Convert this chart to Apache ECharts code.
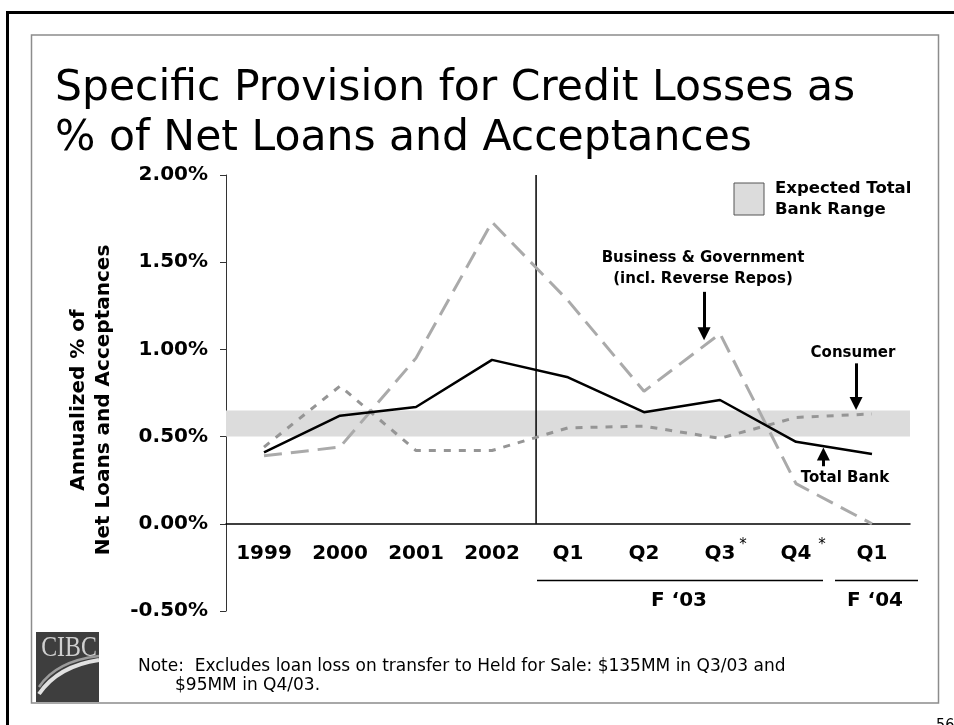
<!DOCTYPE html>
<html>
<head>
<meta charset="utf-8">
<script src="https://cdn.jsdelivr.net/npm/echarts@6/dist/echarts.min.js"></script>
<style>
  html, body { margin: 0; padding: 0; background: #ffffff; }
  #chart { width: 954px; height: 725px; }
</style>
</head>
<body>
<div id="chart"></div>
<script>
// Categories: fiscal years, then quarters of F'03 and Q1 of F'04
const categories = ['1999', '2000', '2001', '2002', 'Q1', 'Q2', 'Q3', 'Q4', 'Q1'];

// Annualized specific provision, % of net loans and acceptances
const totalBank   = [0.41, 0.62, 0.67, 0.94, 0.84, 0.64, 0.71, 0.47, 0.40];
const businessGov = [0.39, 0.44, 0.95, 1.73, 1.28, 0.76, 1.09, 0.23, 0.00];
const consumer    = [0.44, 0.79, 0.42, 0.42, 0.55, 0.56, 0.49, 0.61, 0.63];

// Expected total bank range (low, high)
const expectedRange = [0.50, 0.65];

// Value axis ticks
const yMin = -0.5, yMax = 2.0, yStep = 0.5;

// Position of the annual / quarterly divider, in category units
const dividerAt = 3.58;

const FONT = '"DejaVu Sans", Verdana, sans-serif';
const FONT_COND = '"DejaVu Sans Condensed", "DejaVu Sans", sans-serif';

// Plot area
const W = 954, H = 725;
const GRID = { left: 226, right: 44, top: 175, bottom: 114 };
const plotH = H - GRID.top - GRID.bottom;
// pull the category axis up from the bottom edge to the zero line
const zeroOffset = -plotH * (0 - yMin) / (yMax - yMin);

const chart = echarts.init(document.getElementById('chart'), null, { renderer: 'canvas' });

function txt(x, y, text, font, opts) {
  opts = opts || {};
  return {
    type: 'text', x: x, y: y, z: 100, silent: true,
    rotation: opts.rotation || 0, scaleX: opts.scaleX || 1,
    style: {
      text: text, font: font, fill: opts.fill || '#000',
      align: opts.align || 'left', verticalAlign: opts.valign || 'middle',
      textAlign: opts.align || 'left', textVerticalAlign: opts.valign || 'middle',
      lineHeight: opts.lineHeight
    }
  };
}

const option = {
  animation: false,
  backgroundColor: '#ffffff',
  grid: { left: GRID.left, right: GRID.right, top: GRID.top, bottom: GRID.bottom, containLabel: false },
  xAxis: [
    {
      type: 'category',
      data: categories,
      offset: zeroOffset,
      axisLine: { onZero: false, lineStyle: { color: '#000', width: 1.5 } },
      axisTick: { show: false },
      splitLine: { show: false },
      axisLabel: { margin: 20, color: '#000', fontFamily: FONT, fontWeight: 'bold', fontSize: 20 }
    },
    { type: 'value', min: -0.5, max: categories.length - 0.5, show: false }
  ],
  yAxis: {
    type: 'value',
    min: yMin, max: yMax, interval: yStep,
    axisLine: { show: true, onZero: false, lineStyle: { color: '#333', width: 1 } },
    axisTick: { show: true, inside: false, length: 6, lineStyle: { color: '#333' } },
    splitLine: { show: false },
    axisLabel: {
      margin: 18, color: '#000', fontFamily: FONT, fontWeight: 'bold', fontSize: 20,
      formatter: v => v.toFixed(2) + '%'
    }
  },
  series: [
    {
      name: 'Expected Total Bank Range',
      type: 'line', xAxisIndex: 1, data: [], clip: false, silent: true,
      markArea: {
        silent: true,
        itemStyle: { color: '#dcdcdc' },
        data: [[{ coord: [-0.5, expectedRange[0]] }, { coord: [8.64, expectedRange[1]] }]]
      }
    },
    {
      name: 'Divider',
      type: 'line', xAxisIndex: 1, silent: true, symbol: 'none',
      data: [[dividerAt, 0], [dividerAt, yMax]],
      lineStyle: { color: '#000', width: 1.5 }
    },
    {
      name: 'Business & Government',
      type: 'line', data: businessGov, symbol: 'none', silent: true,
      lineStyle: { color: '#aaaaaa', width: 3, type: [18, 9] }
    },
    {
      name: 'Consumer',
      type: 'line', data: consumer, symbol: 'none', silent: true,
      lineStyle: { color: '#959595', width: 3, type: [7, 8] }
    },
    {
      name: 'Total Bank',
      type: 'line', data: totalBank, symbol: 'none', silent: true,
      lineStyle: { color: '#000000', width: 2.5 }
    },
    {
      name: 'Callouts',
      type: 'line', xAxisIndex: 1, data: [], clip: false, silent: true,
      markLine: {
        silent: true,
        symbol: ['none', 'triangle'],
        symbolSize: 13,
        label: { show: false },
        lineStyle: { color: '#000', width: 3, type: 'solid' },
        data: [
          [{ coord: [5.79, 1.33] }, { coord: [5.79, 1.09] }],
          [{ coord: [7.79, 0.92] }, { coord: [7.79, 0.69] }],
          [{ coord: [7.36, 0.33] }, { coord: [7.36, 0.40] }]
        ]
      }
    }
  ],
  graphic: [
    // page frames
    { type: 'rect', z: 0, silent: true, shape: { x: 31.5, y: 35, width: 907, height: 668 }, style: { fill: 'none', stroke: '#8c8c8c', lineWidth: 1.5 } },
    { type: 'line', z: 0, silent: true, shape: { x1: 6, y1: 12.5, x2: 954, y2: 12.5 }, style: { stroke: '#000', lineWidth: 3 } },
    { type: 'line', z: 0, silent: true, shape: { x1: 7.5, y1: 11, x2: 7.5, y2: 725 }, style: { stroke: '#000', lineWidth: 3 } },

    // title
    txt(55, 89, 'Specific Provision for Credit Losses as', '42.5px ' + FONT),
    txt(55, 139, '% of Net Loans and Acceptances', '42.5px ' + FONT),

    // value axis name
    txt(91.5, 400, 'Annualized % of\nNet Loans and Acceptances', 'bold 20px ' + FONT,
        { align: 'center', rotation: Math.PI / 2, lineHeight: 25 }),

    // legend for the shaded band
    { type: 'rect', z: 100, silent: true, shape: { x: 734, y: 183, width: 30, height: 32 }, style: { fill: '#dcdcdc', stroke: '#555', lineWidth: 1 } },
    txt(775, 189, 'Expected Total', 'bold 16.5px ' + FONT),
    txt(775, 210, 'Bank Range', 'bold 16.5px ' + FONT),

    // series callouts
    txt(703, 258, 'Business & Government', 'bold 15px ' + FONT, { align: 'center' }),
    txt(703, 279, '(incl. Reverse Repos)', 'bold 15px ' + FONT, { align: 'center' }),
    txt(853, 353, 'Consumer', 'bold 15px ' + FONT, { align: 'center' }),
    txt(845, 478, 'Total Bank', 'bold 15px ' + FONT, { align: 'center' }),

    // footnote markers on Q3 / Q4
    txt(743, 545, '*', '15px ' + FONT, { align: 'center' }),
    txt(822, 545, '*', '15px ' + FONT, { align: 'center' }),

    // fiscal-year groupings under the quarters
    { type: 'line', z: 100, silent: true, shape: { x1: 537, y1: 580.5, x2: 823, y2: 580.5 }, style: { stroke: '#000', lineWidth: 1.5 } },
    { type: 'line', z: 100, silent: true, shape: { x1: 835, y1: 580.5, x2: 918, y2: 580.5 }, style: { stroke: '#000', lineWidth: 1.5 } },
    txt(679, 601, 'F \u201803', 'bold 20px ' + FONT, { align: 'center' }),
    txt(875, 601, 'F \u201804', 'bold 20px ' + FONT, { align: 'center' }),

    // CIBC logo
    {
      type: 'group', x: 36, y: 632, z: 100, silent: true,
      children: [
        { type: 'rect', shape: { x: 0, y: 0, width: 63, height: 70 }, style: { fill: '#3e3e3e' } },
        { type: 'text', x: 33, y: 16, scaleX: 0.82, style: { text: 'CIBC', font: '29px "Liberation Serif", serif', fill: '#cfcfcf', align: 'center', verticalAlign: 'middle', textAlign: 'center', textVerticalAlign: 'middle' } },
        { type: 'bezierCurve', shape: { x1: 3, y1: 62, x2: 63, y2: 28, cpx1: 22, cpy1: 34 }, style: { stroke: '#e2e2e2', lineWidth: 4, fill: 'none' } },
        { type: 'bezierCurve', shape: { x1: 3, y1: 55, x2: 63, y2: 24, cpx1: 20, cpy1: 29 }, style: { stroke: '#9c9c9c', lineWidth: 2.5, fill: 'none' } }
      ]
    },

    // note
    txt(138, 667, 'Note:  Excludes loan loss on transfer to Held for Sale: $135MM in Q3/03 and', '17px ' + FONT),
    txt(175, 686, '$95MM in Q4/03.', '17px ' + FONT),

    // page number
    txt(936, 718, '56', '16px ' + FONT_COND, { valign: 'top' })
  ]
};

chart.setOption(option);
</script>
</body>
</html>
